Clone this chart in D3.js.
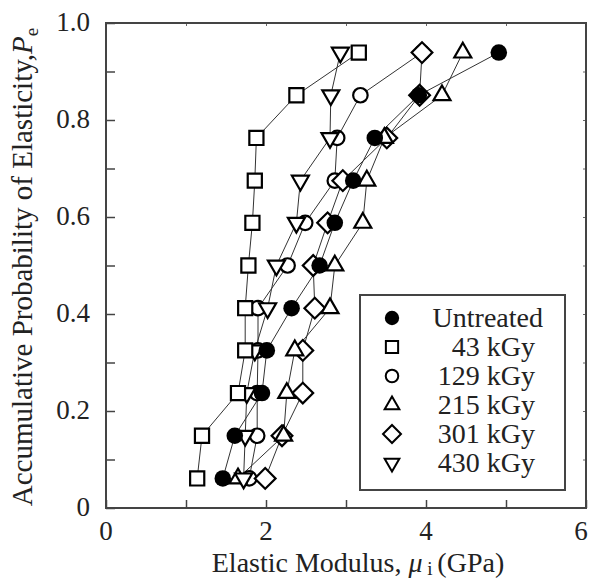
<!DOCTYPE html>
<html>
<head>
<meta charset="utf-8">
<script src="https://cdn.jsdelivr.net/npm/d3@7"></script>
<style>
  body { margin: 0; background: #fff; }
  svg text { font-family: 'Liberation Serif', 'Times New Roman', serif; fill: #222; }
</style>
</head>
<body>
<script>
// accumulative probability levels (median rank, n = 11)
let levels = [0.061, 0.149, 0.237, 0.325, 0.412, 0.500, 0.588, 0.675, 0.763, 0.851, 0.939];

// elastic modulus (GPa) for each dose, sorted
let untreated = [1.46, 1.61, 1.95, 2.01, 2.32, 2.67, 2.86, 3.09, 3.36, 3.91, 4.91];
let kGy43     = [1.14, 1.20, 1.65, 1.74, 1.74, 1.78, 1.83, 1.86, 1.88, 2.38, 3.16];
let kGy129    = [1.79, 1.89, 1.89, 1.90, 1.90, 2.27, 2.49, 2.86, 2.89, 3.18, 3.95];
let kGy215    = [1.65, 2.22, 2.26, 2.36, 2.80, 2.86, 3.21, 3.26, 3.48, 4.20, 4.46];
let kGy301    = [1.99, 2.20, 2.46, 2.46, 2.61, 2.59, 2.77, 2.96, 3.51, 3.92, 3.95];
let kGy430    = [1.72, 1.74, 1.76, 1.86, 2.02, 2.13, 2.38, 2.43, 2.80, 2.81, 2.93];

let seriesNames = ['Untreated', '43 kGy', '129 kGy', '215 kGy', '301 kGy', '430 kGy'];
let xTicks = [0, 2, 4, 6];
let yTicks = [0, 0.2, 0.4, 0.6, 0.8, 1.0];

let width = 591, height = 579;
let margin = {left: 106, top: 23, right: 5, bottom: 71};
let w = width - margin.left - margin.right, h = height - margin.top - margin.bottom;
let serifFont = "'Liberation Serif', 'Times New Roman', serif";

let x = d3.scaleLinear().domain([0, 6]).range([0, w]);
let y = d3.scaleLinear().domain([0, 1]).range([h, 0]);

// marker shapes
let sym = {
  'Untreated': {type: d3.symbolCircle, size: 215, fill: '#000', rot: 0},
  '43 kGy':    {type: d3.symbolSquare, size: 200, fill: '#fff', rot: 0},
  '129 kGy':   {type: d3.symbolCircle, size: 165, fill: '#fff', rot: 0},
  '215 kGy':   {type: d3.symbolTriangle, size: 125, fill: '#fff', rot: 0},
  '301 kGy':   {type: d3.symbolSquare, size: 215, fill: '#fff', rot: 45},
  '430 kGy':   {type: d3.symbolTriangle, size: 125, fill: '#fff', rot: 180}
};

let series = [
  {name: '129 kGy', values: kGy129},
  {name: '301 kGy', values: kGy301},
  {name: '215 kGy', values: kGy215},
  {name: '430 kGy', values: kGy430},
  {name: '43 kGy', values: kGy43},
  {name: 'Untreated', values: untreated}
];

let svg = d3.select('body').append('svg')
  .attr('width', width)
  .attr('height', height);

let g = svg.append('g')
  .attr('transform', 'translate(' + margin.left + ',' + margin.top + ')');

// ticks (inward), minor every 1 / 0.1
g.append('g')
  .attr('transform', 'translate(0,' + h + ')')
  .call(d3.axisTop(x).ticks(6).tickSize(8).tickFormat(''))
  .call(a => a.select('.domain').remove())
  .selectAll('line').attr('stroke', '#444').attr('stroke-width', 1.5);

g.append('g')
  .call(d3.axisRight(y).ticks(10).tickSize(9).tickFormat(''))
  .call(a => a.select('.domain').remove())
  .selectAll('line').attr('stroke', '#444').attr('stroke-width', 1.5);

g.append('g')
  .call(d3.axisBottom(x).ticks(6).tickSize(3).tickFormat(''))
  .call(a => a.select('.domain').remove())
  .selectAll('line').attr('stroke', '#666').attr('stroke-width', 1);

g.append('g')
  .attr('transform', 'translate(' + w + ',0)')
  .call(d3.axisLeft(y).ticks(10).tickSize(3).tickFormat(''))
  .call(a => a.select('.domain').remove())
  .selectAll('line').attr('stroke', '#666').attr('stroke-width', 1);

// frame
g.append('rect')
  .attr('width', w)
  .attr('height', h)
  .attr('fill', 'none')
  .attr('stroke', '#444')
  .attr('stroke-width', 2);

// tick labels
g.selectAll('.xlab')
  .data(xTicks)
  .join('text')
  .attr('class', 'xlab')
  .attr('x', d => d === 6 ? x(d) - 5 : x(d))
  .attr('y', h + 32)
  .attr('text-anchor', 'middle')
  .style('font-family', serifFont)
  .style('font-size', '27px')
  .text(d => d);

g.selectAll('.ylab')
  .data(yTicks)
  .join('text')
  .attr('class', 'ylab')
  .attr('x', -16)
  .attr('y', d => y(d) + 8)
  .attr('text-anchor', 'end')
  .style('font-family', serifFont)
  .style('font-size', '27px')
  .text(d => d === 0 ? '0' : d.toFixed(1));

// axis titles
let xt = svg.append('text')
  .attr('x', 358)
  .attr('y', 572)
  .attr('text-anchor', 'middle')
  .style('font-family', serifFont)
  .style('font-size', '28px');
xt.append('tspan').text('Elastic Modulus,  ');
xt.append('tspan').style('font-style', 'italic').text('\u03bc');
xt.append('tspan').attr('dy', 3).style('font-size', '19px').text(' i ');
xt.append('tspan').attr('dy', -3).text('(GPa)');

let yt = svg.append('text')
  .attr('transform', 'translate(32,267) rotate(-90)')
  .attr('text-anchor', 'middle')
  .style('font-family', serifFont)
  .style('font-size', '29px');
yt.append('tspan').text('Accumulative  Probability of Elasticity,');
yt.append('tspan').style('font-style', 'italic').text('P');
yt.append('tspan').attr('dy', 6).style('font-size', '19px').text('e');

// lines
let line = d3.line()
  .x(d => x(d[0]))
  .y(d => y(d[1]));

g.selectAll('.series-line')
  .data(series)
  .join('path')
  .attr('class', 'series-line')
  .attr('d', s => line(s.values.map((v, i) => [v, levels[i]])))
  .attr('fill', 'none')
  .attr('stroke', '#333')
  .attr('stroke-width', 1);

function symPath(name) {
  return d3.symbol().type(sym[name].type).size(sym[name].size)();
}

// markers
series.forEach(function(s) {
  g.selectAll('.m' + s.name.replace(/\W/g, ''))
    .data(s.values.map((v, i) => [v, levels[i]]))
    .join('path')
    .attr('d', symPath(s.name))
    .attr('transform', d => 'translate(' + x(d[0]) + ',' + y(d[1]) + ') rotate(' + sym[s.name].rot + ')')
    .attr('fill', sym[s.name].fill)
    .attr('stroke', '#000')
    .attr('stroke-width', s.name === 'Untreated' ? 0 : 2.2);
});

// legend
let lg = svg.append('g');
lg.append('rect')
  .attr('x', 360)
  .attr('y', 295)
  .attr('width', 205)
  .attr('height', 195)
  .attr('fill', '#fff')
  .attr('stroke', '#444')
  .attr('stroke-width', 2);

let rows = lg.selectAll('.row')
  .data(seriesNames)
  .join('g')
  .attr('class', 'row')
  .attr('transform', (d, i) => 'translate(0,' + (318 + i * 29) + ')');

rows.append('path')
  .attr('d', d => d3.symbol().type(sym[d].type).size(sym[d].size * 0.75)())
  .attr('transform', d => 'translate(392,0) rotate(' + sym[d].rot + ')')
  .attr('fill', d => sym[d].fill)
  .attr('stroke', '#000')
  .attr('stroke-width', d => d === 'Untreated' ? 0 : 2);

rows.append('text')
  .attr('x', d => d === 'Untreated' ? 543 : 535)
  .attr('y', 9)
  .attr('text-anchor', 'end')
  .style('font-family', serifFont)
  .style('font-size', '28px')
  .text(d => d);
</script>
</body>
</html>
